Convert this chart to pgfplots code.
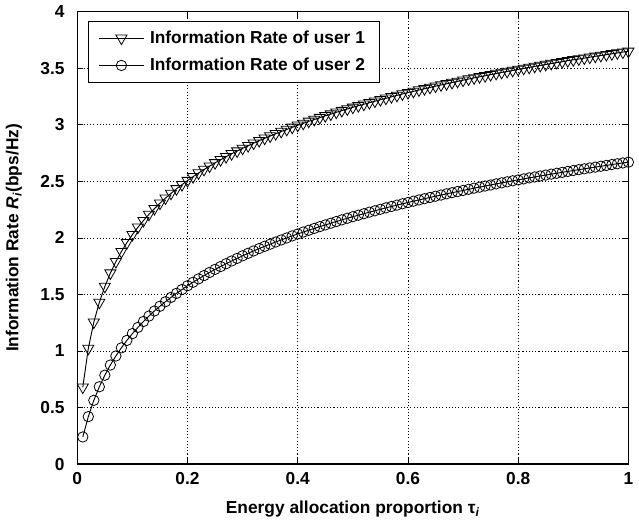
\documentclass[border=0pt]{standalone}
\usepackage{fontspec}
\setmainfont{Liberation Sans}
\usepackage{pgfplots}
\pgfplotsset{compat=1.18}

\pgfplotstableread{
t r1 r2
0.01 0.680 0.240
0.02 1.023 0.420
0.03 1.255 0.564
0.04 1.430 0.684
0.05 1.571 0.786
0.06 1.689 0.876
0.07 1.790 0.956
0.08 1.879 1.028
0.09 1.958 1.094
0.10 2.029 1.154
0.11 2.094 1.209
0.12 2.153 1.261
0.13 2.208 1.309
0.14 2.259 1.354
0.15 2.307 1.396
0.16 2.352 1.436
0.17 2.394 1.474
0.18 2.434 1.510
0.19 2.471 1.544
0.20 2.507 1.577
0.21 2.541 1.608
0.22 2.574 1.638
0.23 2.605 1.667
0.24 2.635 1.695
0.25 2.664 1.722
0.26 2.691 1.747
0.27 2.718 1.772
0.28 2.744 1.796
0.29 2.768 1.819
0.30 2.792 1.842
0.31 2.815 1.864
0.32 2.838 1.885
0.33 2.860 1.906
0.34 2.881 1.926
0.35 2.901 1.945
0.36 2.921 1.964
0.37 2.941 1.982
0.38 2.959 2.000
0.39 2.978 2.018
0.40 2.996 2.035
0.41 3.013 2.052
0.42 3.031 2.068
0.43 3.047 2.084
0.44 3.064 2.100
0.45 3.080 2.115
0.46 3.095 2.130
0.47 3.111 2.145
0.48 3.126 2.160
0.49 3.140 2.174
0.50 3.155 2.188
0.51 3.169 2.201
0.52 3.182 2.214
0.53 3.196 2.228
0.54 3.209 2.240
0.55 3.222 2.253
0.56 3.235 2.266
0.57 3.248 2.278
0.58 3.260 2.290
0.59 3.273 2.302
0.60 3.285 2.313
0.61 3.296 2.325
0.62 3.308 2.336
0.63 3.319 2.347
0.64 3.331 2.358
0.65 3.342 2.369
0.66 3.353 2.379
0.67 3.363 2.390
0.68 3.374 2.400
0.69 3.384 2.410
0.70 3.395 2.420
0.71 3.405 2.430
0.72 3.415 2.440
0.73 3.425 2.449
0.74 3.434 2.459
0.75 3.444 2.468
0.76 3.454 2.478
0.77 3.463 2.487
0.78 3.472 2.496
0.79 3.481 2.505
0.80 3.490 2.513
0.81 3.499 2.522
0.82 3.508 2.531
0.83 3.517 2.539
0.84 3.525 2.548
0.85 3.534 2.556
0.86 3.542 2.564
0.87 3.550 2.572
0.88 3.558 2.580
0.89 3.567 2.588
0.90 3.575 2.596
0.91 3.582 2.604
0.92 3.590 2.611
0.93 3.598 2.619
0.94 3.606 2.626
0.95 3.613 2.634
0.96 3.621 2.641
0.97 3.628 2.649
0.98 3.636 2.656
0.99 3.643 2.663
1.00 3.650 2.670
}\ratetable

\begin{document}
\fontsize{13}{15}\selectfont\bfseries
\begin{tikzpicture}
\begin{axis}[
  scale only axis,
  width=413pt, height=339pt,
  xmin=0, xmax=1, ymin=0, ymax=4,
  xtick={0,0.2,...,1}, ytick={0,0.5,...,4},
  xticklabels={0,0.2,0.4,0.6,0.8,1},
  yticklabels={0,0.5,1,1.5,2,2.5,3,3.5,4},
  tick align=inside, major tick length=4.5pt,
  tick style={black, line width=0.6pt},
  axis line style={black, line width=1pt},
  grid=major,
  grid style={black, dash pattern=on 0.8pt off 1.6pt, line width=0.6pt},
  tick label style={font=\fontsize{13}{15}\selectfont\bfseries},
  /pgf/number format/assume math mode=true,
  xticklabel style={yshift=-2pt},
  yticklabel style={xshift=-5pt},
  xlabel={Energy allocation proportion τ\textsubscript{\textit{i}}},
  ylabel={Information Rate \textit{R}\textsubscript{\textit{i}}(bps/Hz)},
  label style={font=\fontsize{13}{15}\selectfont\bfseries},
  xlabel style={yshift=-3pt},
  ylabel style={yshift=5pt},
  legend cell align=left,
  legend style={draw=black, line width=0.8pt, inner xsep=7pt, inner ysep=5pt,
    row sep=5pt,
    font=\fontsize{13}{15}\selectfont\bfseries, at={(0.02,0.98)}, anchor=north west,
    /tikz/every even column/.append style={column sep=0pt},
    nodes={inner xsep=4pt}},
  legend image code/.code={
    \draw[mark repeat=2, mark phase=2, #1]
      plot coordinates {(0cm,0cm) (0.6cm,0cm) (1.2cm,0cm)};},
]
\addplot[black, line width=0.7pt, mark=triangle, mark size=4.8pt,
  mark options={rotate=180, solid, line width=0.6pt}] table[x=t, y=r1] {\ratetable};
\addlegendentry{Information Rate of user 1}
\addplot[black, line width=0.7pt, mark=o, mark size=3.9pt,
  mark options={solid, line width=0.6pt}] table[x=t, y=r2] {\ratetable};
\addlegendentry{Information Rate of user 2}
\end{axis}
\end{tikzpicture}
\end{document}
